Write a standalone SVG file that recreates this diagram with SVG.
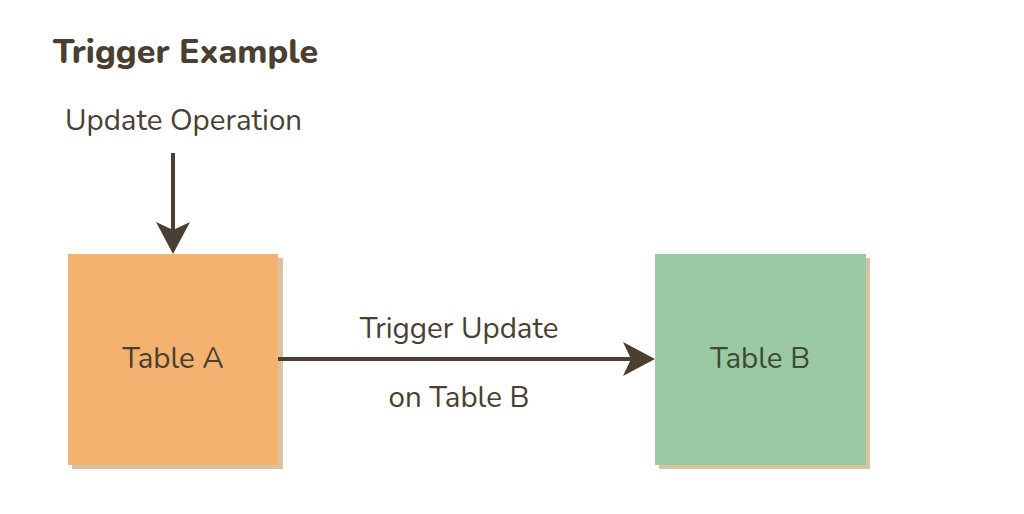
<svg xmlns="http://www.w3.org/2000/svg" width="1024" height="514" viewBox="0 0 1024 514">
<style>
.t{font-family:"Nunito","Lato","Noto Sans",sans-serif;fill:#4a3f30}
.title{font-size:34px;font-weight:800}
.lbl{font-size:29.5px}
.shadow{fill:#d8c3a0}
.line{stroke:#4a3f30;stroke-width:4;fill:none}
.head{fill:#4a3f30}
</style>
<rect width="1024" height="514" fill="#ffffff"/>
<text class="t title" x="53" y="63">Trigger Example</text>
<text class="t lbl" x="65" y="130">Update Operation</text>
<g id="tableA">
<rect class="shadow" x="72" y="258" width="211" height="211"/>
<rect x="68" y="254" width="210" height="211" fill="#f3b26f"/>
<text class="t lbl" x="173" y="368" text-anchor="middle">Table A</text>
</g>
<g id="tableB">
<rect class="shadow" x="659" y="258" width="211" height="211"/>
<rect x="655" y="254" width="211" height="211" fill="#9ac9a3"/>
<text class="t lbl" x="760" y="368" text-anchor="middle" style="fill:#3f4a36">Table B</text>
</g>
<g id="connectors">
<line class="line" x1="173" y1="153" x2="173" y2="240"/>
<path class="head" d="M173,254 L156,222 L173,230 L190,222 Z"/>
<line class="line" x1="278" y1="359" x2="640" y2="359"/>
<path class="head" d="M655,359 L623,342 L631,359 L623,376 Z"/>
<text class="t lbl" x="459" y="338" text-anchor="middle">Trigger Update</text>
<text class="t lbl" x="459" y="407" text-anchor="middle">on Table B</text>
</g>
</svg>
